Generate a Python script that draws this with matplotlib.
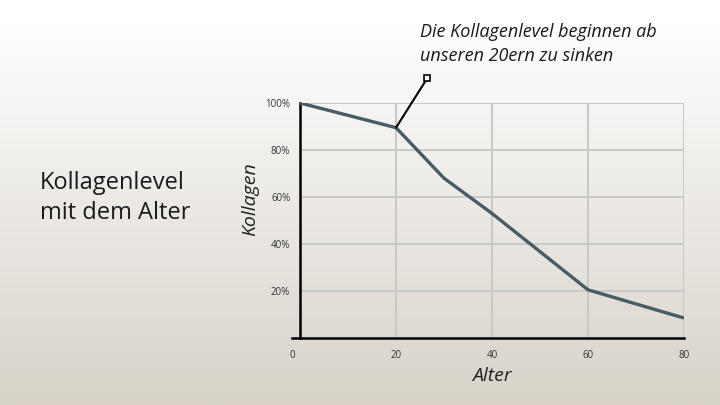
import numpy as np
import matplotlib
matplotlib.use("Agg")
import matplotlib.pyplot as plt
from matplotlib.transforms import ScaledTranslation

# data
alter = [0, 20, 30, 40, 60, 80]
kollagen = [100, 89.5, 68, 53, 20.5, 8.5]
x_ticks = [0, 20, 40, 60, 80]
y_ticks = [20, 40, 60, 80, 100]
y_ticklabels = ["20%", "40%", "60%", "80%", "100%"]
note_xy = (20, 89.5)
note_end = (26.5, 110.5)

plt.rcParams['font.family'] = ['Open Sans', 'DejaVu Sans']

fig = plt.figure(figsize=(7.2, 4.05), dpi=100)

# background gradient
bg = fig.add_axes([0, 0, 1, 1], zorder=-10)
grad = np.linspace(0, 1, 256).reshape(-1, 1)
top = np.array([1.0, 1.0, 1.0])
bottom = np.array([216, 210, 201]) / 255.0
img = top + (bottom - top) * np.clip((grad - 0.05) / 0.95, 0, 1)
bg.imshow(img.reshape(256, 1, 3), aspect='auto', extent=[0, 1, 0, 1])
bg.axis('off')

ax = fig.add_axes([300 / 720, 67 / 405, 384 / 720, 235 / 405])
ax.patch.set_alpha(0)
ax.plot(alter, kollagen, color='#485c66', lw=2.4, solid_capstyle='butt', zorder=3)

ax.set_xlim(0, 80)
ax.set_ylim(0, 100)
ax.set_xticks(x_ticks)
ax.set_yticks(y_ticks)
ax.set_yticklabels(y_ticklabels)
ax.tick_params(length=0, labelsize=7, colors='#333333', pad=7)
ax.tick_params(axis='x', pad=9)
ax.grid(True, color='#c8c8c8', lw=1.4)
ax.set_axisbelow(True)

for s in ['top', 'right']:
    ax.spines[s].set_visible(False)
ax.spines['left'].set_linewidth(1.8)
ax.spines['bottom'].set_linewidth(1.8)
ax.spines['bottom'].set_bounds(-1.7, 80)

# shift the "0" label left like the reference
lbl0 = ax.get_xticklabels()[0]
lbl0.set_transform(lbl0.get_transform() + ScaledTranslation(-8 / 100, 0, fig.dpi_scale_trans))

ax.set_ylabel('Kollagen', fontsize=14, style='italic', color='#222222')
ax.yaxis.set_label_coords(-0.105, 0.59)
ax.set_xlabel('Alter', fontsize=14, style='italic', color='#222222')
ax.xaxis.set_label_coords(0.5, -0.125)

# annotation
ax.annotate('', xy=note_xy, xytext=note_end,
            arrowprops=dict(arrowstyle='-', color='black', lw=1.5, shrinkA=0, shrinkB=0),
            annotation_clip=False)
ax.plot([note_end[0]], [note_end[1]], marker='s', ms=4, mfc='white', mec='black', mew=1.2,
        clip_on=False, zorder=5)
fig.text(420 / 720, 1 - 61 / 405, 'Die Kollagenlevel beginnen ab\nunseren 20ern zu sinken',
         fontsize=13, style='italic', color='#1a1a1a', linespacing=1.4, va='baseline', ha='left')

fig.text(40 / 720, 1 - 198 / 405, 'Kollagenlevel\nmit dem Alter', fontsize=17,
         color='#1a1a1a', linespacing=1.38, va='center', ha='left')

fig.savefig('out.png', dpi=100)
